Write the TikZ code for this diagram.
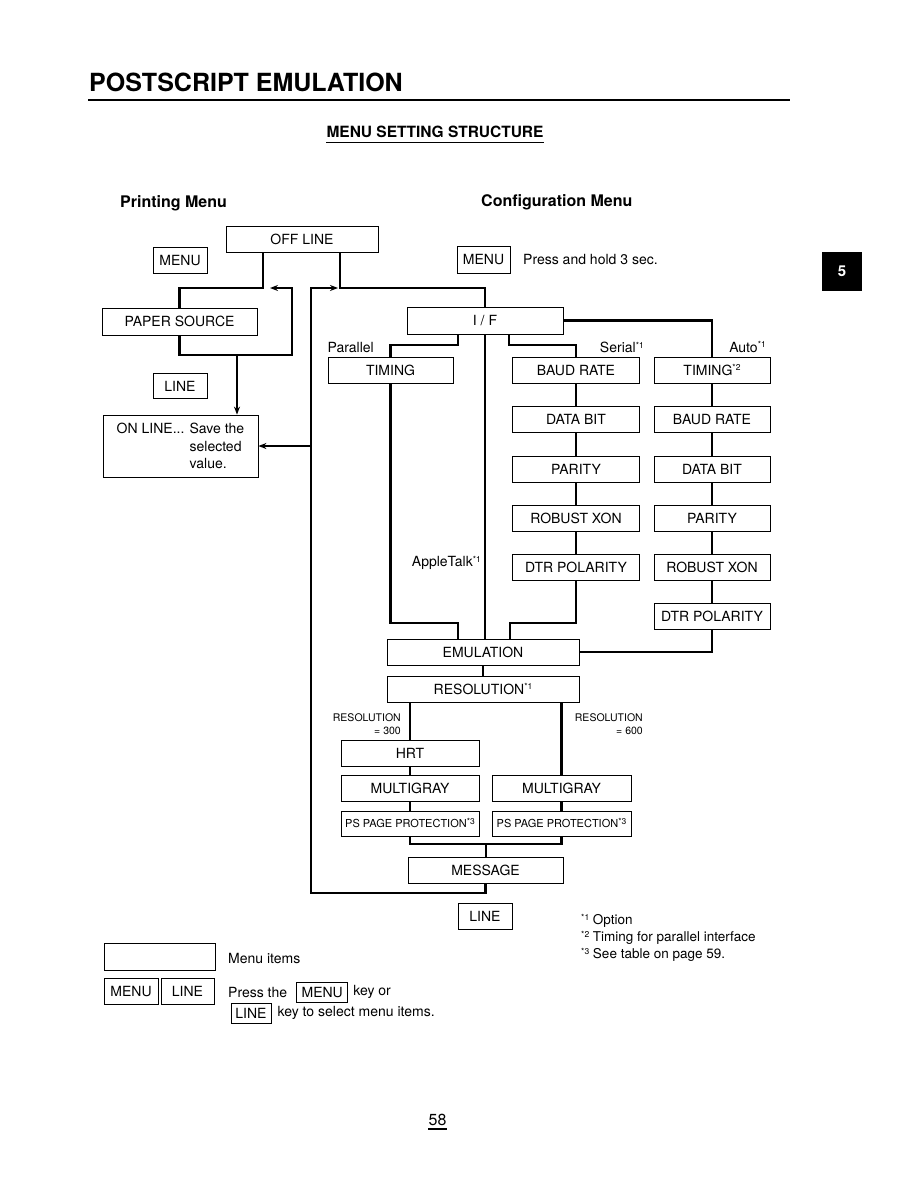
\documentclass[tikz,border=0pt]{standalone}
\usepackage{fontspec}
\setmainfont{TeX Gyre Heros}
\usetikzlibrary{positioning,arrows.meta}

\newcommand\fnmark[1]{\raisebox{0.55ex}{\fontsize{8.5}{9}\selectfont*#1}}

\tikzset{
  menubase/.style={draw, line width=0.8pt, minimum height=26pt, inner sep=0pt, font=\fontsize{14}{17.5}\selectfont},
  menuitem/.style={menubase, text height=10pt, text depth=0pt},
  keybox/.style={draw, line width=0.8pt, minimum height=26pt, minimum width=54pt, inner sep=0pt, text height=10pt, text depth=0pt, font=\fontsize{14}{16}\selectfont},
  conn/.style={line width=2.4pt},
  arr/.style={-{Stealth[length=8pt,width=6pt]}},
  lbl/.style={inner sep=0pt, font=\fontsize{14}{16}\selectfont},
  smalllbl/.style={inner sep=0pt, align=right, font=\fontsize{10.5}{13}\selectfont},
}

\begin{document}
\begin{tikzpicture}[x=1pt,y=-1pt]
\useasboundingbox[fill=white] (0,0) rectangle (918,1188);

% Page heading
\node[anchor=base west, inner sep=0pt, font=\bfseries\fontsize{25}{28}\selectfont] (title) at (89,92) {POSTSCRIPT EMULATION};
\draw[line width=1.6pt] (88,100) -- (790,100);
\node[anchor=base, inner sep=0pt, font=\bfseries\fontsize{15.5}{18}\selectfont] (sub) at (435,137) {MENU SETTING STRUCTURE};
\draw[line width=0.8pt] ([yshift=-5pt]sub.base west) -- ([yshift=-5pt]sub.base east);
% Chapter tab
\fill (822,252) rectangle (862,291);
\node[white, font=\bfseries\fontsize{15}{18}\selectfont] (tab) at (842,271.5) {5};

\node[anchor=west, inner sep=0pt, font=\bfseries\fontsize{16}{19}\selectfont] (pmhead) at (120,203) {Printing Menu};
\node[anchor=west, inner sep=0pt, font=\bfseries\fontsize{16}{19}\selectfont] (cmhead) at (481,202) {Configuration Menu};

% Printing menu
\node[menuitem, minimum width=152pt] (offline) at (302,239) {OFF LINE};
\node[keybox] (menuL) at (180,260) {MENU};
\node[menuitem, minimum width=155pt, minimum height=27pt] (paper) at (179.5,321.5) {PAPER SOURCE};
\node[keybox, minimum height=25pt] (lineL) at (180,386) {LINE};
\node[menubase, minimum width=155pt, minimum height=62pt, align=left] (online) at (180.5,446)
  {ON LINE... Save the\\\phantom{ON LINE... }selected\\\phantom{ON LINE... }value.};

\coordinate (pm) at (263,288);
\coordinate (lpb) at (292,355);
\coordinate (lpe) at (270,288);
\coordinate (dn) at (237,355);
\draw[conn] (offline.south -| pm) -- (pm) -| (paper.north);
\draw[conn, arr] (paper.south) |- (lpb) |- (lpe);
\draw[conn, arr] (dn) -- (online.north -| dn);

% Configuration menu
\node[keybox, minimum width=53pt, minimum height=27pt] (menuR) at (483.5,259.5) {MENU};
\node[lbl, anchor=west] (hold) at (523,260) {Press and hold 3 sec.};
\node[menuitem, minimum width=156pt, minimum height=27pt] (iface) at (485,320.5) {I / F};
\coordinate (cm) at (340,288);
\draw[conn] (offline.south -| cm) -- (cm) -| (iface.north);

\node[menuitem, minimum width=125pt] (timP) at (390.5,370) {TIMING};
\foreach \y/\t [count=\i] in {370/BAUD RATE, 419/DATA BIT, 469/PARITY, 518/ROBUST XON, 567/DTR POLARITY}
  \node[menuitem, minimum width=127pt] (s\i) at (576,\y) {\t};
\foreach \y/\t [count=\i] in {370/{TIMING\fnmark{2}}, 419/BAUD RATE, 469/DATA BIT, 518/PARITY, 567/ROBUST XON, 616/DTR POLARITY}
  \node[menuitem, minimum width=116pt] (a\i) at (712,\y) {\t};

\node[lbl, anchor=east] (par) at (374,347) {Parallel};
\node[lbl, anchor=east] (ser) at (644,347) {Serial\fnmark{1}};
\node[lbl, anchor=east] (aut) at (766,347) {Auto\fnmark{1}};
\node[lbl, anchor=east] (atk) at (481,563) {AppleTalk\fnmark{1}};

\coordinate (pb) at (458,345);
\coordinate (sb) at (509,345);
\draw[conn] (iface.south -| pb) -- (pb) -| (timP.north);
\draw[conn] (iface.south -| sb) -- (sb) -| (s1.north);
\draw[conn] (iface.east) -| (a1.north);
\foreach \i/\j in {1/2,2/3,3/4,4/5}
  \draw[conn] (s\i) -- (s\j);
\foreach \i/\j in {1/2,2/3,3/4,4/5,5/6}
  \draw[conn] (a\i) -- (a\j);

% Emulation and resolution
\node[menuitem, minimum width=192pt] (emul) at (483,652) {EMULATION};
\node[menuitem, minimum width=192pt] (resol) at (483,689) {RESOLUTION\fnmark{1}};
\draw[conn] (iface.south) -- (iface.south |- emul.north);
\coordinate (pj) at (458,623);
\coordinate (sj) at (510,623);
\draw[conn] (timP.south) |- (pj) -- (pj |- emul.north);
\draw[conn] (s5.south) |- (sj) -- (sj |- emul.north);
\draw[conn] (a6.south) |- (emul.east);
\draw[conn] (emul) -- (resol);

\node[smalllbl, anchor=north east] (r300) at (401,713) {RESOLUTION\\= 300};
\node[smalllbl, anchor=north east] (r600) at (643,713) {RESOLUTION\\= 600};

\node[menuitem, minimum width=138pt] (hrt) at (410,753) {HRT};
\node[menuitem, minimum width=138pt] (mgL) at (410,788) {MULTIGRAY};
\node[menuitem, minimum width=139pt] (mgR) at (561.5,788) {MULTIGRAY};
\node[menuitem, minimum width=138pt, minimum height=25pt, text height=8pt, font=\fontsize{11}{13}\selectfont] (ppL) at (410,823.5) {PS PAGE PROTECTION\fnmark{3}};
\node[menuitem, minimum width=139pt, minimum height=25pt, text height=8pt, font=\fontsize{11}{13}\selectfont] (ppR) at (561.5,823.5) {PS PAGE PROTECTION\fnmark{3}};
\draw[conn] (resol.south -| hrt) -- (hrt);
\draw[conn] (resol.south -| mgR) -- (mgR);
\draw[conn] (hrt) -- (mgL);
\draw[conn] (mgL) -- (ppL);
\draw[conn] (mgR) -- (ppR);

\node[menuitem, minimum width=155pt] (msg) at (485.5,870) {MESSAGE};
\coordinate (bus) at (486,844);
\draw[conn] (ppL.south) |- (bus) -| (ppR.south);
\draw[conn] (bus) -- (bus |- msg.north);

% Return path
\coordinate (rb) at (311,893);
\coordinate (rt) at (311,288);
\coordinate (re) at (338,288);
\draw[conn, arr] (msg.south) |- (rb) -- (rt) -- (re);
\draw[conn, arr] (online.east -| rt) -- (online.east);
\node[keybox] (lineB) at (485,916) {LINE};

% Legend
\node[menubase, minimum width=111pt, minimum height=27pt] (blank) at (159.5,956.5) {};
\node[lbl, anchor=west] (items) at (228,958) {Menu items};
\node[keybox] (kmenu) at (131,991) {MENU};
\node[keybox, minimum width=53pt] (kline) at (187.5,991) {LINE};
\node[lbl, anchor=west] (press) at (228,992) {Press the};
\node[keybox, minimum width=51pt, minimum height=20pt, right=9pt of press] (pmenu) {MENU};
\node[lbl, right=5pt of pmenu] (keyor) {key or};
\node[keybox, minimum width=40pt, minimum height=20pt] (pline) at (251,1013) {LINE};
\node[lbl, right=6pt of pline] (sel) {key to select menu items.};

% Notes
\node[lbl, anchor=west, font=\fontsize{13.5}{16}\selectfont] (fn1) at (581,921) {\fnmark{1} Option};
\node[lbl, anchor=west, font=\fontsize{13.5}{16}\selectfont] (fn2) at (581,938) {\fnmark{2} Timing for parallel interface};
\node[lbl, anchor=west, font=\fontsize{13.5}{16}\selectfont] (fn3) at (581,955) {\fnmark{3} See table on page 59.};

% Page number
\node[anchor=base, inner sep=0pt, font=\fontsize{16}{18}\selectfont] (pg) at (437.5,1125) {58};
\draw[line width=1.2pt] ([yshift=-4pt]pg.base west) -- ([yshift=-4pt]pg.base east);
\end{tikzpicture}
\end{document}
